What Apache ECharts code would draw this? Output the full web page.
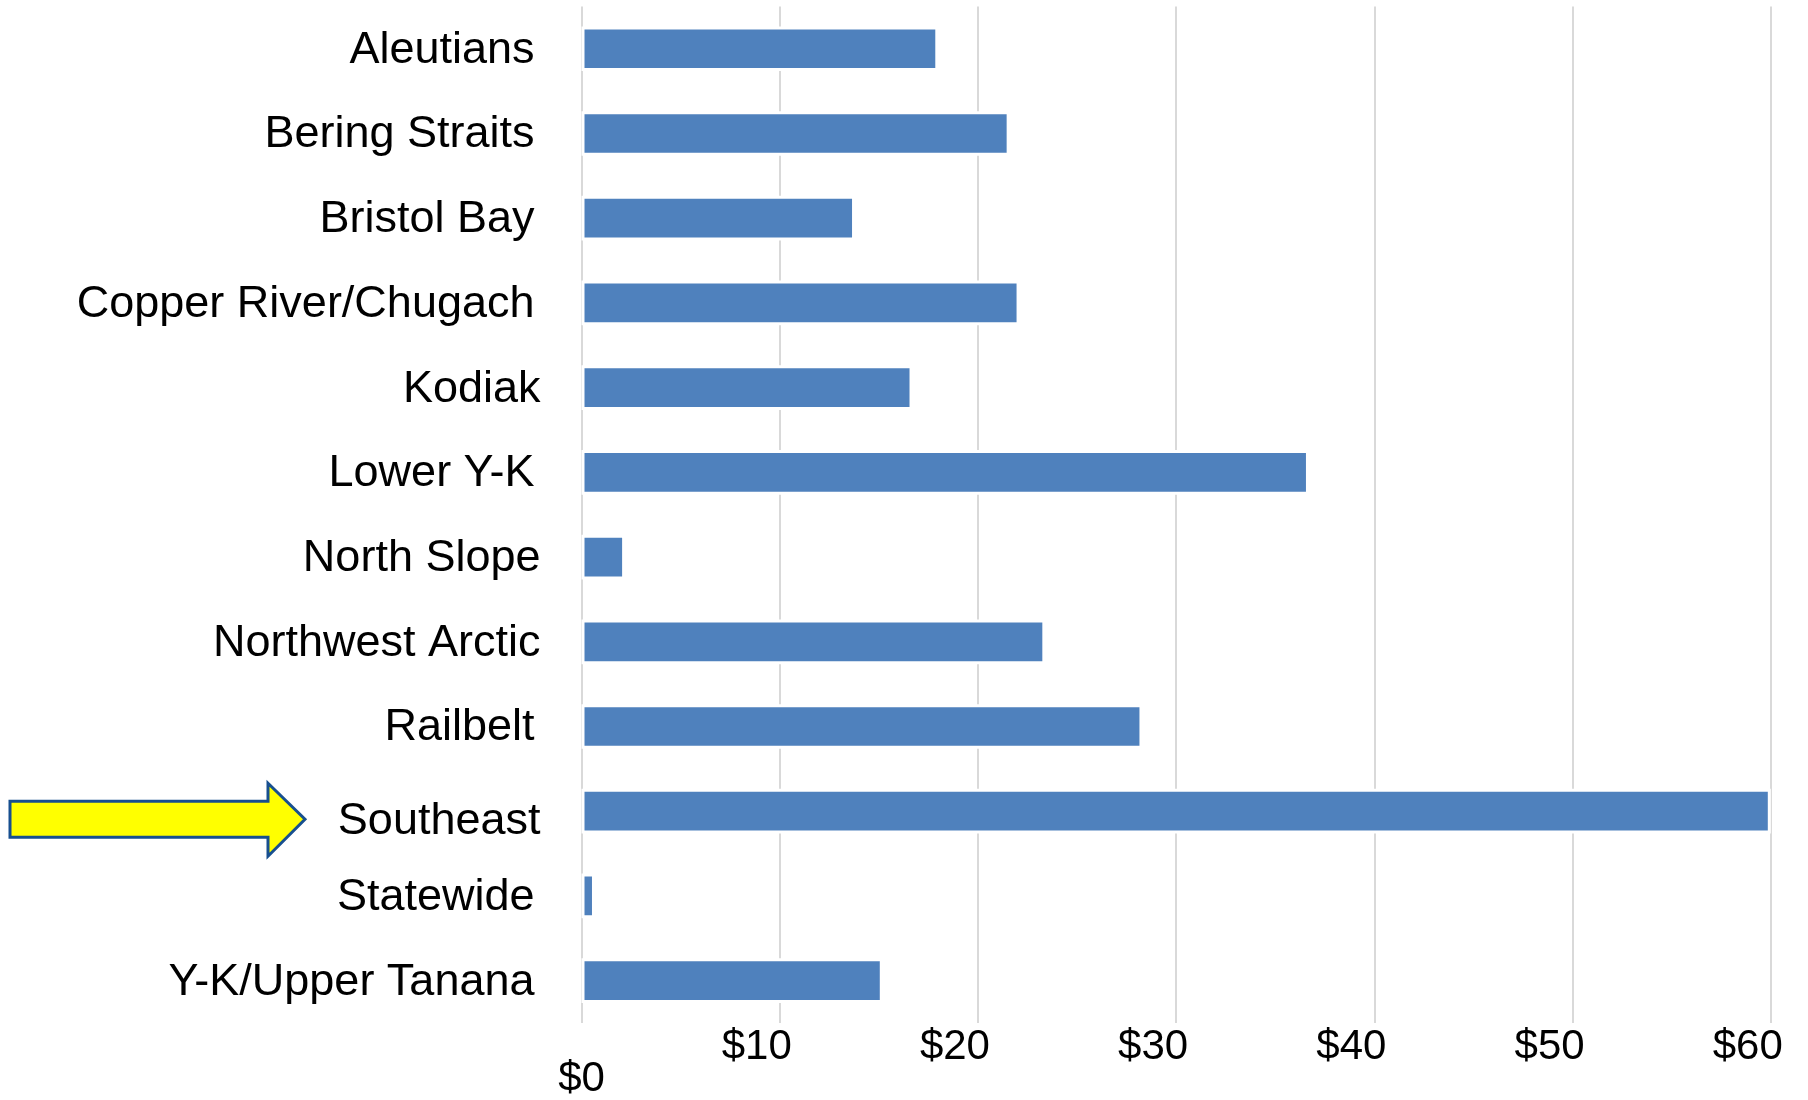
<!DOCTYPE html>
<html>
<head>
<meta charset="utf-8">
<script src="https://cdn.jsdelivr.net/npm/echarts@6/dist/echarts.min.js"></script>
<style>
html,body{margin:0;padding:0;background:#fff;}
#chart{width:1808px;height:1100px;}
</style>
</head>
<body>
<div id="chart"></div>
<script>
const categories = ['Aleutians','Bering Straits','Bristol Bay','Copper River/Chugach','Kodiak','Lower Y-K','North Slope','Northwest Arctic','Railbelt','Southeast','Statewide','Y-K/Upper Tanana'];
const values = [18.0, 21.6, 13.8, 22.1, 16.7, 36.7, 2.2, 23.4, 28.3, 60.0, 0.68, 15.2];
const tickValues = [0, 10, 20, 30, 40, 50, 60];
const tickLabels = ['$0', '$10', '$20', '$30', '$40', '$50', '$60'];
const highlighted = 'Southeast';
const shiftedLabels = ['Kodiak', 'North Slope', 'Northwest Arctic', 'Southeast'];

const FONT = '"Liberation Sans", Arial, sans-serif';
const chart = echarts.init(document.getElementById('chart'), null, {renderer: 'canvas'});

function tickLabel(v) {
  const i = tickValues.indexOf(v);
  return i >= 0 ? tickLabels[i] : '';
}

function catLabel(v) {
  if (v === highlighted) return '{h|' + v + '}';
  return shiftedLabels.indexOf(v) >= 0 ? '{b|' + v + '}' : '{a|' + v + '}';
}

const option = {
  backgroundColor: '#ffffff',
  animation: false,
  grid: {left: 581.5, right: 37.2, top: 6.4, bottom: 70.4, containLabel: false},
  xAxis: [{
    type: 'value', min: 0, max: 60, interval: 10, position: 'bottom',
    axisLine: {show: false}, axisTick: {show: false},
    splitLine: {show: true, lineStyle: {color: '#d9d9d9', width: 2}},
    axisLabel: {
      margin: 3, color: '#000', fontFamily: FONT, fontSize: 42,
      formatter: v => v === 0 ? '' : '{a|' + tickLabel(v) + '}',
      rich: {a: {fontFamily: FONT, fontSize: 42, color: '#000', padding: [0, 46, 0, 0]}}
    }
  }, {
    type: 'value', min: 0, max: 60, interval: 10, position: 'bottom', offset: 32,
    axisLine: {show: false}, axisTick: {show: false}, splitLine: {show: false},
    axisLabel: {
      margin: 3, color: '#000', fontFamily: FONT, fontSize: 42,
      formatter: v => v === 0 ? tickLabel(v) : ''
    }
  }],
  yAxis: {
    type: 'category', data: categories, inverse: true,
    axisLine: {show: false}, axisTick: {show: false}, splitLine: {show: false},
    axisLabel: {
      margin: 41, color: '#000', fontFamily: FONT, fontSize: 45,
      formatter: catLabel,
      rich: {
        a: {fontFamily: FONT, fontSize: 45, color: '#000', padding: [3, 6, 0, 0]},
        b: {fontFamily: FONT, fontSize: 45, color: '#000', padding: [3, 0, 0, 0]},
        h: {fontFamily: FONT, fontSize: 45, color: '#000', padding: [20, 0, 0, 0]}
      }
    }
  },
  series: [{
    type: 'bar', data: values, barWidth: 44.7,
    itemStyle: {color: '#4f81bd', borderColor: '#ffffff', borderWidth: 3},
    silent: true
  }]
};
chart.setOption(option);

// Arrow annotation pointing at the highlighted category label
const yc = chart.convertToPixel({yAxisIndex: 0}, highlighted) + 8;
const arrowPts = [
  [10, yc - 18], [268, yc - 18], [268, yc - 36], [305, yc],
  [268, yc + 37], [268, yc + 18], [10, yc + 18]
];
chart.setOption({
  graphic: [{
    type: 'polygon', shape: {points: arrowPts},
    style: {fill: '#ffff00', stroke: '#174f8f', lineWidth: 3, lineJoin: 'miter'},
    z: 100
  }]
});
</script>
</body>
</html>
